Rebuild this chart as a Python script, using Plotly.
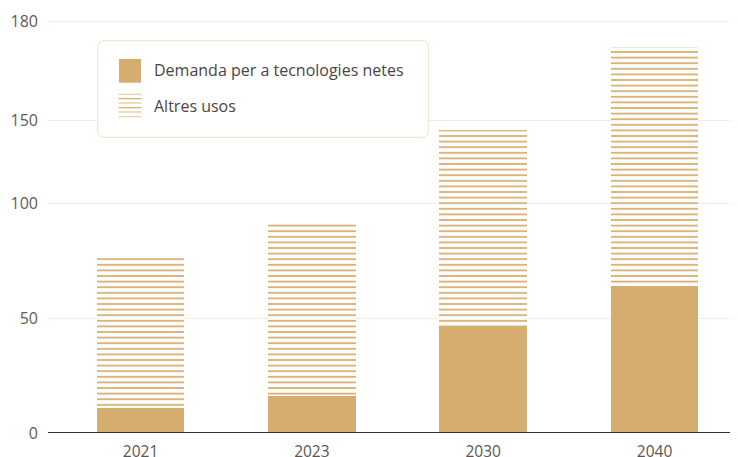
import plotly.graph_objects as go

years = ["2021", "2023", "2030", "2040"]
net_tech = [11.0, 16.1, 46.2, 64.0]
other_uses = [65.4, 74.8, 86.0, 104.4]
tick_vals = [0, 50, 100, 136.1, 179.6]
tick_text = ["0", "50", "100", "150", "180"]
name_net = "Demanda per a tecnologies netes"
name_other = "Altres usos"

OFF = 8  # page body margin
W, H = 738, 449
L, R, T, B = 40, 0, 2, 24
PW, PH = W - L - R, H - T - B
gold = "#d5ad6f"
hatch = "#d8ab68"

def px(x):  # page pixel -> paper
    return (x - OFF - L) / PW

def py(y):
    return (H - B - (y - OFF)) / PH

fig = go.Figure()
fig.add_trace(go.Bar(x=years, y=net_tech, name=name_net, marker=dict(color=gold, line=dict(width=0)), width=0.51))
fig.add_trace(go.Bar(x=years, y=other_uses, name=name_other,
                     marker=dict(color="white", line=dict(width=0),
                                 pattern=dict(shape="-", fgcolor=hatch, bgcolor="white", size=5.6, solidity=0.3, fillmode="replace")),
                     width=0.51))

font = "Open Sans, Noto Sans, sans-serif"
fig.update_layout(
    barmode="stack", width=W, height=H, showlegend=False,
    margin=dict(l=L, r=R, t=T, b=B, autoexpand=False),
    paper_bgcolor="white", plot_bgcolor="white",
    font=dict(family=font, size=15, color="#5a5555"),
    xaxis=dict(range=[-0.54, 3.534], showgrid=False, ticks="", tickfont=dict(size=15.5, color="#5a5555"),
               showline=False, zeroline=False, automargin=False, ticklabelstandoff=7),
    yaxis=dict(range=[0, 423 / 2.294], tickvals=tick_vals, ticktext=tick_text,
               showgrid=True, gridcolor="#f6ecdc", gridwidth=1, zeroline=False, automargin=False,
               tickfont=dict(size=16, color="#5f5a5a"), ticks="", ticklabelstandoff=9, fixedrange=True),
)

# baseline
fig.add_shape(type="line", xref="paper", yref="y", x0=0, x1=1, y0=0, y1=0,
              line=dict(color="#3b2d2d", width=2), layer="above")

# legend box with rounded corners
x0, x1, y0, y1 = px(97.7), px(428.3), py(137.3), py(40.7)
rx, ry = 7 / PW, 7 / PH
path = (f"M {x0+rx},{y0} L {x1-rx},{y0} Q {x1},{y0} {x1},{y0+ry} L {x1},{y1-ry} Q {x1},{y1} {x1-rx},{y1} "
        f"L {x0+rx},{y1} Q {x0},{y1} {x0},{y1-ry} L {x0},{y0+ry} Q {x0},{y0} {x0+rx},{y0} Z")
fig.add_shape(type="path", xref="paper", yref="paper", path=path,
              fillcolor="white", line=dict(color="#f1e0c6", width=1), layer="above")

# swatch 1
fig.add_shape(type="rect", xref="paper", yref="paper", x0=px(119), x1=px(141), y0=py(82.7), y1=py(59),
              fillcolor=gold, line=dict(width=0), layer="above")
# swatch 2 (hatched)
for yy, c in zip([94.3, 98.7, 103.0, 107.7, 112.0, 116.7],
                 ["#e8cfa8", hatch, "#e3c69a", hatch, "#e3c69a", "#e8cfa8"]):
    fig.add_shape(type="line", xref="paper", yref="paper", x0=px(118.5), x1=px(141.5), y0=py(yy), y1=py(yy),
                  line=dict(color=c, width=1.2), layer="above")

for label, yc in [(name_net, 70.0), (name_other, 105.5)]:
    fig.add_annotation(text=label, xref="paper", yref="paper", x=px(152), y=py(yc), xanchor="left", yanchor="middle",
                       showarrow=False, font=dict(family=font, size=16, color="#4a4545"))

fig.write_html("out.html", post_script="document.documentElement.style.overflow='hidden';document.body.style.overflow='hidden';")
